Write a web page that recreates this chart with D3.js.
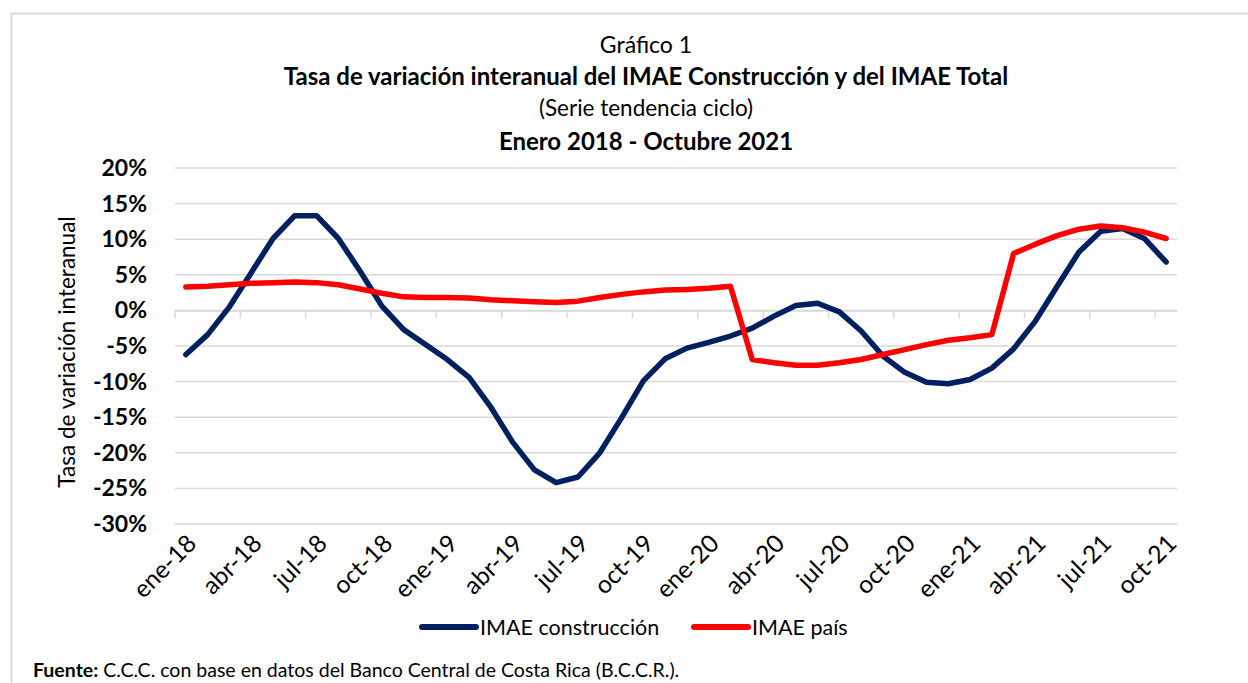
<!DOCTYPE html>
<html><head>
<meta charset="utf-8">
<title>IMAE</title>
<style>
  body {margin:0; background:#fff;}
  text {font-family: Lato, "Open Sans", sans-serif;}
</style>
</head>
<body>
<script src="https://d3js.org/d3.v7.min.js"></script>
<script>
// meses ene-18 .. oct-21
var meses = ["ene","feb","mar","abr","may","jun","jul","ago","sep","oct","nov","dic"];
var categorias = [];
for (var a = 18; a <= 21; a++) {
    for (var m = 0; m < 12; m++) {
        if (a == 21 && m > 9) break;
        categorias.push(meses[m] + "-" + a);
    }
}

var construccion = [-6.2,-3.4,0.5,5.3,10.1,13.3,13.3,10.1,5.5,0.6,-2.7,-4.8,
    -6.9,-9.4,-13.6,-18.5,-22.4,-24.2,-23.4,-20.0,-15.1,-9.9,-6.8,-5.3,
    -4.5,-3.6,-2.5,-0.8,0.7,1.0,-0.2,-2.9,-6.4,-8.7,-10.1,-10.3,
    -9.7,-8.1,-5.4,-1.5,3.4,8.2,11.1,11.5,10.1,6.8];
var pais = [3.3,3.4,3.6,3.8,3.9,4.0,3.9,3.6,3.0,2.4,1.9,1.8,
    1.8,1.75,1.5,1.35,1.2,1.1,1.3,1.8,2.25,2.6,2.85,2.95,
    3.1,3.4,-6.9,-7.35,-7.7,-7.7,-7.35,-6.9,-6.2,-5.5,-4.8,-4.2,
    -3.85,-3.4,8.0,9.3,10.5,11.4,11.85,11.6,11.0,10.1];
var yTicks = [20,15,10,5,0,-5,-10,-15,-20,-25,-30];

var width = 1248, height = 683;
var svg = d3.select("body").append("svg")
    .attr("width", width).attr("height", height);

// marco
svg.append("rect")
    .attr("x", 11.5).attr("y", 13.5)
    .attr("width", 1260).attr("height", 700)
    .attr("fill", "none").attr("stroke", "#d9d9d9").attr("stroke-width", 2);

var pLeft = 175, pRight = 1177, pTop = 168, pBottom = 524;

var x = d3.scaleBand().domain(categorias).range([pLeft, pRight]);
var y = d3.scaleLinear().domain([-30, 20]).range([pBottom, pTop]);

// titulos
var tit = svg.append("g").attr("text-anchor", "middle").attr("fill", "#000");
tit.append("text").attr("x", 646).attr("y", 53).attr("font-size", 23).text("Gráfico 1");
tit.append("text").attr("x", 646).attr("y", 85).attr("font-size", 24).attr("font-weight", "bold")
    .text("Tasa de variación interanual del IMAE Construcción y del IMAE Total");
tit.append("text").attr("x", 646).attr("y", 116).attr("font-size", 22.5).text("(Serie tendencia ciclo)");
tit.append("text").attr("x", 646).attr("y", 150).attr("font-size", 24).attr("font-weight", "bold")
    .text("Enero 2018 - Octubre 2021");

// grid
svg.append("g").selectAll("line").data(yTicks).enter().append("line")
    .attr("x1", pLeft).attr("x2", pRight)
    .attr("y1", function(d){ return y(d); }).attr("y2", function(d){ return y(d); })
    .attr("stroke", "#d9d9d9").attr("stroke-width", 1.5);

svg.append("g").selectAll("text").data(yTicks).enter().append("text")
    .attr("x", 147).attr("y", function(d){ return y(d) + 8; })
    .attr("text-anchor", "end").attr("font-size", 23).attr("font-weight", "bold")
    .text(function(d){ return d + "%"; });

// eje x sobre el 0%
var xAxis = d3.axisBottom(x)
    .tickValues(categorias.filter(function(d, i){ return i % 3 == 0; }))
    .tickSize(8).tickSizeOuter(0).tickFormat("");
var gx = svg.append("g").attr("transform", "translate(0," + y(0) + ")").call(xAxis);
gx.select(".domain").attr("stroke", "#d9d9d9").attr("stroke-width", 1.5);
gx.selectAll(".tick line").attr("stroke", "#d9d9d9").attr("stroke-width", 1.5)
    .attr("transform", "translate(" + (-x.bandwidth() / 2) + ",0)");

// etiquetas x
svg.append("g").selectAll("text")
    .data(categorias.filter(function(d, i){ return i % 3 == 0; }))
    .enter().append("text")
    .attr("transform", function(d){
        return "translate(" + (x(d) + x.bandwidth() / 2 + 12) + "," + 545 + ") rotate(-45)";
    })
    .attr("text-anchor", "end").attr("font-size", 24.5)
    .text(function(d){ return d; });

// titulo eje y
svg.append("text")
    .attr("transform", "translate(75,352) rotate(-90)")
    .attr("text-anchor", "middle").attr("font-size", 22.5)
    .text("Tasa de variación interanual");

// lineas
var line = d3.line()
    .x(function(d, i){ return x(categorias[i]) + x.bandwidth() / 2; })
    .y(function(d){ return y(d); });

svg.append("path").datum(construccion).attr("d", line)
    .attr("fill", "none").attr("stroke", "#002060").attr("stroke-width", 5.5)
    .attr("stroke-linecap", "round").attr("stroke-linejoin", "round");
svg.append("path").datum(pais).attr("d", line)
    .attr("fill", "none").attr("stroke", "#ff0000").attr("stroke-width", 5.5)
    .attr("stroke-linecap", "round").attr("stroke-linejoin", "round");

// leyenda
var leg = [["IMAE construcción", "#002060", 422], ["IMAE país", "#ff0000", 694]];
var lg = svg.append("g").selectAll("g").data(leg).enter().append("g");
lg.append("line")
    .attr("x1", function(d){ return d[2]; }).attr("x2", function(d){ return d[2] + 54; })
    .attr("y1", 627).attr("y2", 627)
    .attr("stroke", function(d){ return d[1]; }).attr("stroke-width", 6).attr("stroke-linecap", "round");
lg.append("text")
    .attr("x", function(d){ return d[2] + 58; }).attr("y", 635)
    .attr("font-size", 21.5)
    .text(function(d){ return d[0]; });

// fuente
var f = svg.append("text").attr("x", 33).attr("y", 677).attr("font-size", 19.5);
f.append("tspan").attr("font-weight", "bold").text("Fuente:");
f.append("tspan").text(" C.C.C. con base en datos del Banco Central de Costa Rica (B.C.C.R.).");
</script>
</body></html>
